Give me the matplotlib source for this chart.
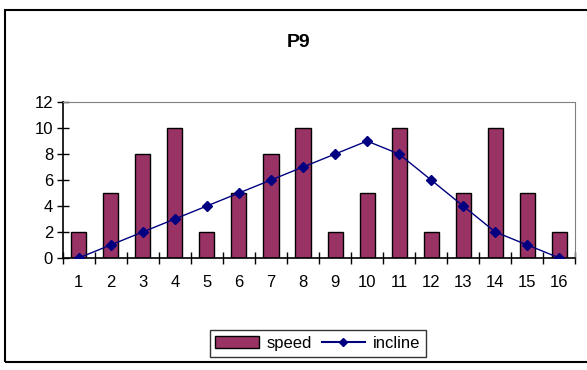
import matplotlib.pyplot as plt
from matplotlib.patches import Rectangle
from matplotlib.lines import Line2D

plt.rcParams["font.family"] = ["Liberation Sans", "DejaVu Sans"]

# Session P9: speed and incline per interval
intervals = list(range(1, 17))
speed = [2, 5, 8, 10, 2, 5, 8, 10, 2, 5, 10, 2, 5, 10, 5, 2]
incline = [0, 1, 2, 3, 4, 5, 6, 7, 8, 9, 8, 6, 4, 2, 1, 0]

fig = plt.figure(figsize=(5.87, 3.7), dpi=100)
ax = fig.add_axes([0.107, 0.303, 0.873, 0.421])

ax.bar(intervals, speed, width=0.47, color="#993366", edgecolor="black",
       linewidth=1.0, label="speed", zorder=2)
ax.plot(intervals, incline, color="#000080", marker="D", markersize=5,
        linewidth=1.0, label="incline", zorder=3)

ax.set_xlim(0.5, 16.5)
ax.set_ylim(0, 12)
ax.set_yticks(range(0, 13, 2))
ax.set_xticks(intervals)
ax.set_xticks([x + 0.5 for x in range(0, 17)], minor=True)
ax.tick_params(axis="x", which="major", length=0, labelsize=12, pad=12)
ax.tick_params(axis="x", which="minor", direction="inout", length=8, width=1)
ax.tick_params(axis="y", direction="inout", length=8, width=1, labelsize=12, pad=3)

for side in ("top", "right"):
    ax.spines[side].set_color("#808080")
    ax.spines[side].set_linewidth(0.8)
for side in ("left", "bottom"):
    ax.spines[side].set_linewidth(1.2)

fig.text(0.508, 0.886, "P9", ha="center", va="center", fontsize=14, fontweight="bold")

handles = [Rectangle((0, 0), 1, 1, facecolor="#993366", edgecolor="black"),
           Line2D([], [], color="#000080", marker="D", markersize=4)]
leg = fig.legend(handles, ["speed", "incline"], loc="center", ncol=2,
                 bbox_to_anchor=(0.541, 0.072), fontsize=12, frameon=True,
                 fancybox=False, edgecolor="black", handlelength=2.6,
                 handletextpad=0.45, columnspacing=0.6, borderpad=0.35)
leg.get_frame().set_linewidth(1.0)

# Chart area border
fig.patches.append(Rectangle((0.009, 0.022), 0.995, 0.951, transform=fig.transFigure,
                             fill=False, edgecolor="black", linewidth=1.5))

fig.savefig("out.png", dpi=100)
